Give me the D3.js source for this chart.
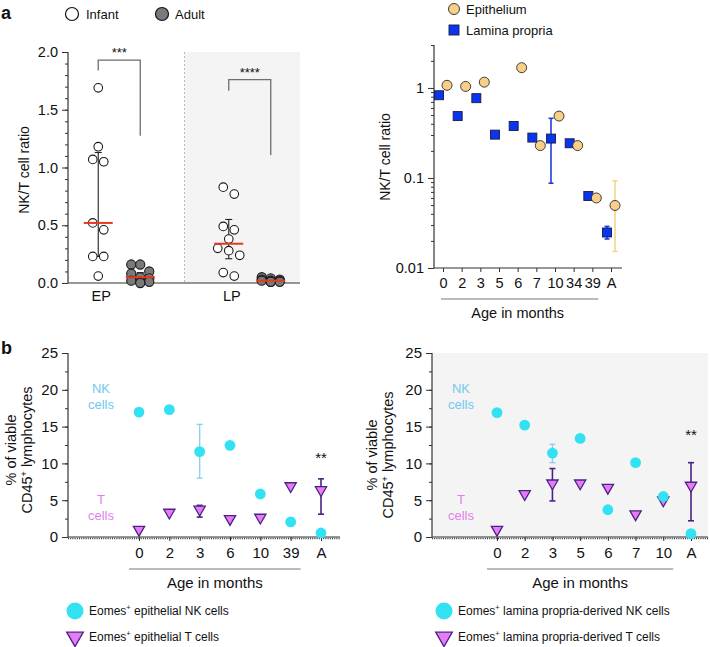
<!DOCTYPE html>
<html><head><meta charset="utf-8">
<script src="https://cdn.jsdelivr.net/npm/d3@7"></script>
<style>body{margin:0;background:#fff}svg{display:block;font-family:"Liberation Sans",Arial,Helvetica,sans-serif}</style>
</head><body><svg id="c" width="710" height="647"></svg>
<script>
// ---------- DATA ----------
// Panel a (left): NK/T ratio per site and cohort
const sites = ["EP", "LP"];
const cohorts = ["Infant", "Adult"];
const epInfant = [1.69, 1.18, 1.07, 1.05, 0.52, 0.46, 0.23, 0.23, 0.06];
const epAdult  = [0.16, 0.16, 0.10, 0.08, 0.05, 0.04, 0.02, 0.01, 0.01, 0.0];
const lpInfant = [0.83, 0.77, 0.49, 0.46, 0.38, 0.30, 0.28, 0.24, 0.09, 0.06];
const lpAdult  = [0.05, 0.04, 0.03, 0.03, 0.02, 0.02, 0.02, 0.01, 0.01, 0.01];
const groupMedian = [0.52, 0.05, 0.34, 0.02];
const groupQ1     = [0.23, 0.01, 0.21, 0.01];
const groupQ3     = [1.13, 0.09, 0.55, 0.03];
const ratioTicksLin = [0, 0.5, 1.0, 1.5, 2.0];
const sigStars = ["***", "****"];
const sigBracketTop = [1.93, 1.76];
const sigLeftEnd = [1.84, 1.665];
const sigRightEnd = [1.275, 1.108];

// Panel a (right): NK/T ratio by age
const agesA = ["0", "2", "3", "5", "6", "7", "10", "34", "39", "A"];
const epiAges  = ["0", "2", "3", "6", "7", "10", "34", "39", "A"];
const epiRatio = [1.07, 1.04, 1.16, 1.68, 0.229, 0.487, 0.229, 0.060, 0.0495];
const lpAges   = ["0", "2", "3", "5", "6", "7", "10", "34", "39", "A"];
const lpRatio  = [0.83, 0.487, 0.77, 0.303, 0.378, 0.281, 0.274, 0.243, 0.063, 0.0248];
const lpErrAges = ["10", "A"], lpErrLo = [0.0875, 0.021], lpErrHi = [0.46, 0.029];
const epiErrAges = ["A"], epiErrLo = [0.0153], epiErrHi = [0.093];
const logTicks = [0.01, 0.1, 1];
const logTickLabels = ["0.01", "0.1", "1"];

// Panel b (left): epithelial Eomes+ cells
const agesBL = ["0", "2", "3", "6", "10", "39", "A"];
const nkEpi = [16.97, 17.3, 11.6, 12.45, 5.84, 2.05, 0.55];
const tEpi  = [1.0, 3.33, 3.74, 2.46, 2.65, 6.93, 6.39];
const nkEpiErrAges = ["3"], nkEpiErrLo = [8.0], nkEpiErrHi = [15.3];
const tEpiErrAges = ["3", "A"], tEpiErrLo = [2.7, 3.1], tEpiErrHi = [4.3, 7.9];

// Panel b (right): lamina propria Eomes+ cells
const agesBR = ["0", "2", "3", "5", "6", "7", "10", "A"];
const nkLp = [16.9, 15.2, 11.4, 13.4, 3.7, 10.1, 5.5, 0.45];
const tLp  = [1.0, 5.85, 7.3, 7.3, 6.7, 3.1, 5.0, 7.0];
const nkLpErrAges = ["3", "A"], nkLpErrLo = [10.1, 0], nkLpErrHi = [12.6, 1.0];
const tLpErrAges = ["3", "A"], tLpErrLo = [4.9, 2.2], tLpErrHi = [9.3, 10.1];
const pctTicks = [0, 5, 10, 15, 20, 25];

// ---------- STYLE ----------
const C = {
  axis: "#333", red: "#e8371f", grey: "#6e6e6e", shade: "#f4f4f4",
  epi: "#f8cf88", lp: "#0a35ee", lpErr: "#2040d8", epiErr: "#f5d488",
  nk: "#33e2f2", nkErr: "#8fcfec", nkLab: "#72c8ee",
  tri: "#e77bf3", triStroke: "#4a2287", tLab: "#e27fec", adult: "#7a7a7a"
};
const svg = d3.select("#c");
const FS = 14;

function txt(g, x, y, s, opt = {}) {
  return g.append("text").attr("x", x).attr("y", y).text(s)
    .attr("font-size", opt.size || FS).attr("fill", opt.fill || "#111")
    .attr("text-anchor", opt.anchor || "start")
    .attr("font-weight", opt.weight || "normal");
}
function styleAxis(g, size) {
  g.select(".domain").remove();
  g.selectAll(".tick line").attr("stroke", C.axis);
  g.selectAll("text").attr("font-size", size || FS).attr("fill", "#111")
    .attr("font-family", '"Liberation Sans",Arial,sans-serif');
}
function vline(g, x, y1, y2, col, w = 1) {
  g.append("line").attr("x1", x).attr("x2", x).attr("y1", y1).attr("y2", y2)
    .attr("stroke", col).attr("stroke-width", w);
}
function hline(g, x1, x2, y, col, w = 1) {
  g.append("line").attr("x1", x1).attr("x2", x2).attr("y1", y).attr("y2", y)
    .attr("stroke", col).attr("stroke-width", w);
}
function errBar(g, x, ylo, yhi, col, cap, w = 1.3) {
  vline(g, x, ylo, yhi, col, w);
  hline(g, x - cap, x + cap, ylo, col, w);
  hline(g, x - cap, x + cap, yhi, col, w);
}
function superText(g, x, y, parts, opt = {}) {
  const t = g.append("text").attr("x", x).attr("y", y)
    .attr("font-size", opt.size || FS).attr("fill", "#111")
    .attr("text-anchor", opt.anchor || "start");
  parts.forEach(p => {
    if (p.sup) t.append("tspan").attr("dy", -5).attr("font-size", (opt.size || FS) * 0.62).text(p.sup);
    else t.append("tspan").attr("dy", p.after ? 5 : 0).text(p.t);
  });
  return t;
}

// ---------- PANEL a LEFT ----------
{
  const g = svg.append("g");
  const plotL = 68, plotR = 300, plotT = 52, plotB = 283;
  const y = d3.scaleLinear().domain([0, 2]).range([plotB, plotT]);
  const xs = d3.scaleBand().domain(sites).range([54, 315]);
  const xc = d3.scalePoint().domain(cohorts).range([-21, 21]);
  const xPos = (s, c) => xs(s) + xs.bandwidth() / 2 + xc(c);
  const boundary = (xs("EP") + xs("LP") + xs.bandwidth()) / 2;

  g.append("rect").attr("x", boundary).attr("y", plotT).attr("width", plotR - boundary)
    .attr("height", plotB - plotT).attr("fill", C.shade);
  g.append("line").attr("x1", boundary).attr("x2", boundary).attr("y1", plotT).attr("y2", plotB)
    .attr("stroke", "#bbb").attr("stroke-dasharray", "2,2");

  const minor = d3.range(0, 2.0001, 0.1);
  const am = g.append("g").attr("transform", `translate(${plotL},0)`)
    .call(d3.axisLeft(y).tickValues(minor).tickSize(3).tickFormat(""));
  styleAxis(am);
  const ay = g.append("g").attr("transform", `translate(${plotL},0)`)
    .call(d3.axisLeft(y).tickValues(ratioTicksLin).tickSize(6).tickPadding(4).tickFormat(d3.format(".1f")));
  styleAxis(ay, 14.5);
  vline(g, plotL, plotT, plotB, C.axis, 1.2);
  hline(g, plotL, plotR, plotB, C.axis, 1.2);

  sites.forEach(s => txt(g, xs(s) + xs.bandwidth() / 2 - 18, 301, s, { anchor: "middle", size: 14.5 }));
  g.append("text").attr("transform", `translate(29,170) rotate(-90)`).attr("text-anchor", "middle")
    .attr("font-size", FS).attr("fill", "#111").text("NK/T cell ratio");

  const groupsData = [[epInfant, "EP", "Infant"], [epAdult, "EP", "Adult"], [lpInfant, "LP", "Infant"], [lpAdult, "LP", "Adult"]];

  groupsData.forEach((gd, i) => {
    const cx = xPos(gd[1], gd[2]);
    errBar(g, cx, y(groupQ1[i]), y(groupQ3[i]), "#222", 3.5, 1.1);
  });

  function swarm(vals, cx, spacing, maxRow) {
    const sorted = vals.slice().sort((a, b) => b - a);
    const rows = [];
    sorted.forEach(v => {
      const py = y(v);
      const last = rows[rows.length - 1];
      if (last && py - last.y0 < 7.5 && last.items.length < maxRow) last.items.push(v);
      else rows.push({ y0: py, items: [v] });
    });
    const out = [];
    rows.forEach(r => r.items.forEach((v, k) => out.push({ x: cx + (k - (r.items.length - 1) / 2) * spacing, y: y(v) })));
    return out;
  }
  groupsData.forEach((gd) => {
    const cx = xPos(gd[1], gd[2]);
    const infant = gd[2] === "Infant";
    const pts = swarm(gd[0], cx, infant ? 11 : 9, 3);
    g.selectAll(null).data(pts).enter().append("circle")
      .attr("cx", d => d.x).attr("cy", d => d.y).attr("r", infant ? 4.3 : 4.6)
      .attr("fill", infant ? "#fff" : C.adult).attr("stroke", "#1a1a1a").attr("stroke-width", 1.1);
  });
  groupsData.forEach((gd, i) => {
    const cx = xPos(gd[1], gd[2]);
    hline(g, cx - 14.5, cx + 14.5, y(groupMedian[i]), C.red, 2);
  });
  sites.forEach((s, i) => {
    const x1 = xPos(s, "Infant"), x2 = xPos(s, "Adult");
    const p = `M${x1},${y(sigLeftEnd[i])}V${y(sigBracketTop[i])}H${x2}V${y(sigRightEnd[i])}`;
    g.append("path").attr("d", p).attr("fill", "none").attr("stroke", C.grey).attr("stroke-width", 1.3);
    txt(g, (x1 + x2) / 2, y(sigBracketTop[i]) - 3, sigStars[i], { anchor: "middle", size: 13 });
  });

  txt(g, 1, 19, "a", { size: 18, weight: "bold" });
  g.append("circle").attr("cx", 72).attr("cy", 14).attr("r", 6.5).attr("fill", "#fff").attr("stroke", "#111").attr("stroke-width", 1.2);
  txt(g, 86, 19, "Infant", { size: 13 });
  g.append("circle").attr("cx", 162).attr("cy", 14).attr("r", 6.5).attr("fill", C.adult).attr("stroke", "#111").attr("stroke-width", 1.2);
  txt(g, 175, 19, "Adult", { size: 13 });
}

// ---------- PANEL a RIGHT ----------
{
  const g = svg.append("g");
  const plotL = 434, plotR = 622;
  const y = d3.scaleLog().domain([0.01, 3]).range([268, 45]);
  const x = d3.scalePoint().domain(agesA).range([443, 611]);
  const off = 4;

  const minor = [];
  [0.01, 0.1, 1].forEach(dec => d3.range(2, 10).forEach(k => { if (dec * k <= 3.0001) minor.push(dec * k); }));
  const am = g.append("g").attr("transform", `translate(${plotL},0)`)
    .call(d3.axisLeft(y).tickValues(minor).tickSize(3).tickFormat(""));
  styleAxis(am);
  const ay = g.append("g").attr("transform", `translate(${plotL},0)`)
    .call(d3.axisLeft(y).tickValues(logTicks).tickSize(6).tickPadding(4).tickFormat((d, i) => logTickLabels[i]));
  styleAxis(ay, 14.5);
  vline(g, plotL, 45, 268, C.axis, 1.2);
  hline(g, plotL, plotR, 268, C.axis, 1.2);
  const ax = g.append("g").attr("transform", `translate(0,268)`)
    .call(d3.axisBottom(x).tickSize(4).tickPadding(6));
  styleAxis(ax, 14.5);
  hline(g, x("0") - 2, x("39") + 6, 299, "#777", 1);
  txt(g, (x("0") + x("39")) / 2, 318, "Age in months", { anchor: "middle", size: 14.5 });
  g.append("text").attr("transform", `translate(390,157) rotate(-90)`).attr("text-anchor", "middle")
    .attr("font-size", FS).attr("fill", "#111").text("NK/T cell ratio");

  lpErrAges.forEach((a, i) => errBar(g, x(a) - off, y(lpErrLo[i]), y(lpErrHi[i]), C.lpErr, 2.5, 1.6));
  epiErrAges.forEach((a, i) => errBar(g, x(a) + off, y(epiErrLo[i]), y(epiErrHi[i]), C.epiErr, 2.5, 1.6));

  g.selectAll(null).data(lpAges.map((a, i) => ({ a, v: lpRatio[i] }))).enter().append("rect")
    .attr("x", d => x(d.a) - off - 4.5).attr("y", d => y(d.v) - 4.5).attr("width", 9).attr("height", 9)
    .attr("fill", C.lp).attr("stroke", "#1b1b40").attr("stroke-width", 0.9);
  g.selectAll(null).data(epiAges.map((a, i) => ({ a, v: epiRatio[i] }))).enter().append("circle")
    .attr("cx", d => x(d.a) + off).attr("cy", d => y(d.v)).attr("r", 5)
    .attr("fill", C.epi).attr("stroke", "#2a2a2a").attr("stroke-width", 0.9);

  g.append("circle").attr("cx", 454).attr("cy", 9).attr("r", 5.5).attr("fill", C.epi).attr("stroke", "#2a2a2a").attr("stroke-width", 0.9);
  txt(g, 466, 14, "Epithelium", { size: 13 });
  g.append("rect").attr("x", 449).attr("y", 25).attr("width", 10).attr("height", 10).attr("fill", C.lp).attr("stroke", "#1b1b40").attr("stroke-width", 0.9);
  txt(g, 466, 35, "Lamina propria", { size: 13 });
}

// ---------- PANEL b ----------
function panelB(cfg) {
  const g = svg.append("g");
  const y = d3.scaleLinear().domain([0, 25]).range([537, 353]);
  const x = d3.scalePoint().domain(cfg.ages).range(cfg.xr);
  if (cfg.shade) g.append("rect").attr("x", cfg.plotL).attr("y", 353).attr("width", cfg.plotR - cfg.plotL)
    .attr("height", 537 - 353).attr("fill", C.shade);

  const am = g.append("g").attr("transform", `translate(${cfg.plotL},0)`)
    .call(d3.axisLeft(y).tickValues(d3.range(0, 25.01, 2.5)).tickSize(3).tickFormat(""));
  styleAxis(am);
  const ay = g.append("g").attr("transform", `translate(${cfg.plotL},0)`)
    .call(d3.axisLeft(y).tickValues(pctTicks).tickSize(6).tickPadding(4));
  styleAxis(ay, 15);
  vline(g, cfg.plotL, 353, 537, C.axis, 1.2);
  hline(g, cfg.plotL, cfg.plotR, 537, C.axis, 1);
  g.append("line").attr("x1", cfg.plotL).attr("x2", cfg.plotR).attr("y1", 538.5).attr("y2", 538.5)
    .attr("stroke", C.axis).attr("stroke-width", 1.5).attr("stroke-dasharray", "1,1.2");
  const ax = g.append("g").attr("transform", `translate(0,537)`)
    .call(d3.axisBottom(x).tickSize(4).tickPadding(6));
  styleAxis(ax, 15);
  const lastAge = cfg.ages[cfg.ages.length - 2];
  hline(g, x(cfg.ages[0]) - 10, x(lastAge) + 10, 569, "#777", 1);
  txt(g, (x(cfg.ages[0]) + x(lastAge)) / 2, 588, "Age in months", { anchor: "middle", size: 15 });

  const yl = g.append("g").attr("transform", `translate(${cfg.labX},${cfg.labY}) rotate(-90)`);
  txt(yl, 0, 0, "% of viable", { anchor: "middle", size: 14.5 });
  superText(yl, 0, 16, [{ t: "CD45" }, { sup: "+" }, { t: " lymphocytes", after: true }], { anchor: "middle", size: 14.5 });

  txt(g, cfg.nkLabX, 393, "NK", { anchor: "middle", fill: C.nkLab, size: 13 });
  txt(g, cfg.nkLabX, 409, "cells", { anchor: "middle", fill: C.nkLab, size: 13 });
  txt(g, cfg.nkLabX, 504, "T", { anchor: "middle", fill: C.tLab, size: 13 });
  txt(g, cfg.nkLabX, 520, "cells", { anchor: "middle", fill: C.tLab, size: 13 });

  cfg.nkErrAges.forEach((a, i) => errBar(g, x(a), y(cfg.nkErrLo[i]), y(cfg.nkErrHi[i]), C.nkErr, 3, 1.4));
  cfg.tErrAges.forEach((a, i) => errBar(g, x(a), y(cfg.tErrLo[i]), y(cfg.tErrHi[i]), C.triStroke, 3, 1.6));

  const tri = d3.symbol().type(d3.symbolTriangle).size(55);
  g.selectAll(null).data(cfg.ages.map((a, i) => ({ a, v: cfg.t[i] }))).enter().append("path")
    .attr("d", tri).attr("transform", d => `translate(${x(d.a)},${y(d.v)}) rotate(180)`)
    .attr("fill", C.tri).attr("stroke", C.triStroke).attr("stroke-width", 1.3);
  g.selectAll(null).data(cfg.ages.map((a, i) => ({ a, v: cfg.nk[i] }))).enter().append("circle")
    .attr("cx", d => x(d.a)).attr("cy", d => y(d.v)).attr("r", 5.4).attr("fill", C.nk);

  txt(g, x("A"), cfg.starY, "**", { anchor: "middle", size: 15 });

  g.append("circle").attr("cx", cfg.legX).attr("cy", 611).attr("r", 8.5).attr("fill", C.nk);
  superText(g, cfg.legX + 14, 615, [{ t: "Eomes" }, { sup: "+" }, { t: " " + cfg.legNK, after: true }], { size: 12 });
  g.append("path").attr("d", d3.symbol().type(d3.symbolTriangle).size(120))
    .attr("transform", `translate(${cfg.legX},637) rotate(180)`)
    .attr("fill", C.tri).attr("stroke", C.triStroke).attr("stroke-width", 1.3);
  superText(g, cfg.legX + 14, 641, [{ t: "Eomes" }, { sup: "+" }, { t: " " + cfg.legT, after: true }], { size: 12 });
}

panelB({ ages: agesBL, nk: nkEpi, t: tEpi, xr: [139, 321], plotL: 68, plotR: 340, shade: false,
  nkErrAges: nkEpiErrAges, nkErrLo: nkEpiErrLo, nkErrHi: nkEpiErrHi,
  tErrAges: tEpiErrAges, tErrLo: tEpiErrLo, tErrHi: tEpiErrHi,
  labX: 16, labY: 450, nkLabX: 101, starY: 463, legX: 75,
  legNK: "epithelial NK cells", legT: "epithelial T cells" });
panelB({ ages: agesBR, nk: nkLp, t: tLp, xr: [497, 691], plotL: 432, plotR: 708, shade: true,
  nkErrAges: nkLpErrAges, nkErrLo: nkLpErrLo, nkErrHi: nkLpErrHi,
  tErrAges: tLpErrAges, tErrLo: tLpErrLo, tErrHi: tLpErrHi,
  labX: 377, labY: 455, nkLabX: 461, starY: 440, legX: 444,
  legNK: "lamina propria-derived NK cells", legT: "lamina propria-derived T cells" });

txt(svg, 1, 354, "b", { size: 18, weight: "bold" });
</script></body></html>
